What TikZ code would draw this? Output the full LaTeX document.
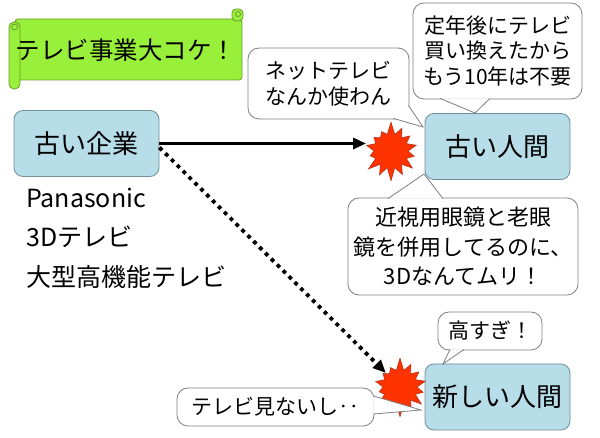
\documentclass[tikz,border=0pt]{standalone}
\usepackage{fontspec}
\setmainfont{Noto Sans CJK JP}
\usetikzlibrary{arrows.meta,calc,positioning,shapes.symbols}
\definecolor{ScrollGreen}{HTML}{99F03A}
\definecolor{ScrollRule}{HTML}{6B9A2A}
\definecolor{BoxFill}{HTML}{B7DDE8}
\definecolor{BoxRule}{HTML}{6F8F99}
\definecolor{BubbleRule}{HTML}{7F7F7F}
\definecolor{BoomRed}{HTML}{FF3300}
\definecolor{BoomRule}{HTML}{B8321E}

\begin{document}
\begin{tikzpicture}[
        x=1pt,y=-1pt,
        scroll/.style={draw=ScrollRule,fill=ScrollGreen,line width=0.8pt},
        title/.style={font=\fontsize{24.5}{28}\selectfont},
        personbox/.style={draw=BoxRule,fill=BoxFill,rounded corners=9pt,minimum width=145pt,minimum height=66pt,line width=0.8pt,font=\fontsize{26}{30}\selectfont},
        spec/.style={anchor=west,inner sep=0pt,font=\fontsize{25}{28}\selectfont},
        bubble/.style={draw=BubbleRule,fill=white,rounded corners=11pt,align=center,inner sep=0pt,line width=0.8pt,font=\fontsize{21}{25.5}\selectfont},
        tail/.style={draw=BubbleRule,fill=white,line width=0.8pt},
        boom/.style={starburst,starburst points=14,starburst point height=13pt,random starburst=7,draw=BoomRule,fill=BoomRed,line width=0.6pt,inner sep=12pt},
        arrow/.style={-{Triangle[length=13pt,width=11pt]},line width=3.8pt},
        dotarrow/.style={arrow,dash pattern=on 3.8pt off 4.5pt}
      ]
        \useasboundingbox (0,0) rectangle (600,438);
        % banner
        \draw[scroll,rounded corners=3pt] (15,19) rectangle (242,80);
        \draw[scroll,rounded corners=4pt] (232,9) rectangle (243,21);
        \draw[scroll] (238,14) circle (2.5pt);
        \draw[scroll,rounded corners=5pt] (9,22) rectangle (20,89);
        \draw[scroll] (14.5,27) circle (3pt);
        \node[title] (headline) at (126,50) {テレビ事業大コケ！};
        % company and people
        \node[personbox] (oldfirm) at (86.5,143.5) {古い企業};
        \node[personbox] (oldfolk) at (497.5,146.5) {古い人間};
        \node[personbox] (newfolk) at (497.5,397) {新しい人間};
        \node[spec] (maker) at (26,198) {Panasonic};
        \node[spec] (tv3d) at (26,237) {3Dテレビ};
        \node[spec] (bigtv) at (26,277) {大型高機能テレビ};
        % clashes
        \node[boom] (clash1) at (391,151) {};
        \node[boom] (clash2) at (400,387) {};
        \draw[arrow,shorten >=25pt] (oldfirm.east) -- (oldfirm.east -| clash1.center);
        \draw[dotarrow,shorten >=20pt] ([yshift=-4pt]oldfirm.east) -- (clash2.center);
        % speech bubbles
        \node[bubble,minimum width=161pt,minimum height=71pt] (nettv) at (328.5,83.5) {ネットテレビ\\なんか使わん};
        \node[bubble,minimum width=169pt,minimum height=96pt] (retire) at (497.5,51) {定年後にテレビ\\買い換えたから\\もう10年は不要};
        \node[bubble,minimum width=230pt,minimum height=97pt,font=\fontsize{22}{29.5}\selectfont] (glasses) at (463,246.5) {近視用眼鏡と老眼\\鏡を併用してるのに、\\3Dなんてムリ！};
        \node[bubble,minimum width=104pt,minimum height=38pt] (pricey) at (490,331) {高すぎ！};
        \node[bubble,minimum width=197pt,minimum height=38pt] (notv) at (275.5,407) {テレビ見ないし‥};
        \coordinate (nettv tip) at (423,127);
        \coordinate (retire tip) at (475,113);
        \coordinate (glasses tip) at (424,174);
        \coordinate (pricey tip) at (443,364);
        \coordinate (notv tip) at (421,410);
        \filldraw[tail] ([xshift=-16pt,yshift=1pt]nettv.south east) -- (nettv tip) -- ([xshift=-1pt,yshift=14pt]nettv.south east);
        \filldraw[tail] ([xshift=-57.5pt,yshift=1pt]retire.south) -- (retire tip) -- ([xshift=-7.5pt,yshift=1pt]retire.south);
        \filldraw[tail] ([xshift=-75pt,yshift=-1pt]glasses.north) -- (glasses tip) -- ([xshift=-20pt,yshift=-1pt]glasses.north);
        \filldraw[tail] ([xshift=-40pt,yshift=1pt]pricey.south) -- (pricey tip) -- ([xshift=-26pt,yshift=1pt]pricey.south);
        \filldraw[tail] ([xshift=-1pt,yshift=11pt]notv.east) -- (notv tip) -- ([xshift=-1pt,yshift=-7pt]notv.east);
      \end{tikzpicture}
\end{document}
